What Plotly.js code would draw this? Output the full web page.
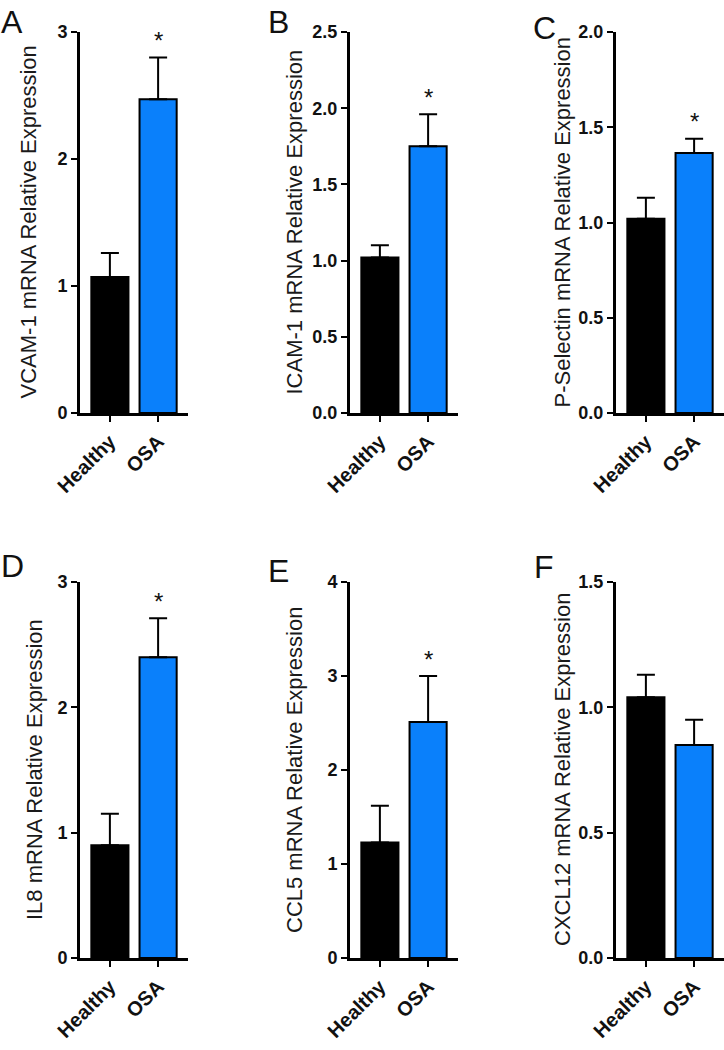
<!DOCTYPE html>
<html>
<head>
<meta charset="utf-8">
<script src="https://cdn.plot.ly/plotly-3.0.1.min.js"></script>
<style>
  html, body { margin: 0; padding: 0; background: #fff; }
  #chart { width: 724px; height: 1050px; }
</style>
</head>
<body>
<div id="chart"></div>
<script>
// ---- Data ----
const groups = ['Healthy', 'OSA'];
const panelLetters = ['A', 'B', 'C', 'D', 'E', 'F'];
const genes = ['VCAM-1', 'ICAM-1', 'P-Selectin', 'IL8', 'CCL5', 'CXCL12'];

const vcamMean = [1.07, 2.47];
const vcamSem = [0.19, 0.33];
const icamMean = [1.02, 1.75];
const icamSem = [0.08, 0.21];
const pselMean = [1.02, 1.365];
const pselSem = [0.11, 0.075];
const il8Mean = [0.90, 2.40];
const il8Sem = [0.25, 0.31];
const ccl5Mean = [1.23, 2.51];
const ccl5Sem = [0.39, 0.49];
const cxcl12Mean = [1.04, 0.85];
const cxcl12Sem = [0.09, 0.10];

const yMax = [3, 2.5, 2.0, 3, 4, 1.5];
const yStep = [1, 0.5, 0.5, 1, 1, 0.5];
const significant = [true, true, true, true, true, false];

const means = [vcamMean, icamMean, pselMean, il8Mean, ccl5Mean, cxcl12Mean];
const sems = [vcamSem, icamSem, pselSem, il8Sem, ccl5Sem, cxcl12Sem];

// ---- Layout geometry (pixels) ----
const W = 724, H = 1050;
const colX = [[80, 188], [350, 458], [616, 724]];
const rowY = [[32, 413], [582, 958]];
const titleX = [28, 294, 562, 34, 294, 562];
const letterPos = [[-1, 2], [266, 2], [531, 8], [-1, 546], [266, 551], [532, 547]];

const barColors = ['#000000', '#0a80fb'];
const FONT = 'Liberation Sans, Arial, Helvetica, sans-serif';

const data = [];
const layout = {
  width: W, height: H,
  margin: {l: 0, r: 0, t: 0, b: 0},
  paper_bgcolor: '#ffffff',
  plot_bgcolor: 'rgba(0,0,0,0)',
  showlegend: false,
  annotations: [],
  font: {family: FONT, color: '#111'}
};

for (let i = 0; i < 6; i++) {
  const c = i % 3, r = Math.floor(i / 3);
  const n = i === 0 ? '' : String(i + 1);
  const xa = 'x' + n, ya = 'y' + n;
  data.push({
    type: 'bar',
    x: [0, 1],
    y: means[i],
    xaxis: xa, yaxis: ya,
    width: 0.77,
    marker: {color: barColors, line: {color: '#000', width: 2}},
    error_y: {
      type: 'data', symmetric: false,
      array: sems[i], arrayminus: [0, 0],
      color: '#000', thickness: 2, width: 9
    },
    hoverinfo: 'skip'
  });
  const xd = [colX[c][0] / W, colX[c][1] / W];
  const yd = [(H - rowY[r][1]) / H, (H - rowY[r][0]) / H];
  layout['xaxis' + n] = {
    domain: xd, anchor: ya,
    range: [-0.62, 1.62],
    tickmode: 'array', tickvals: [0, 1], ticktext: groups,
    tickangle: -45,
    tickfont: {family: FONT, size: 20, weight: 'bold', color: '#111'},
    showline: true, linewidth: 3, linecolor: '#000',
    ticks: 'outside', ticklen: 6, tickwidth: 2, tickcolor: '#000',
    showgrid: false, zeroline: false, fixedrange: true
  };
  layout['yaxis' + n] = {
    domain: yd, anchor: xa,
    range: [0, yMax[i]],
    tick0: 0, dtick: yStep[i],
    tickformat: yStep[i] < 1 ? '.1f' : 'd',
    tickfont: {family: FONT, size: 18, weight: 'bold', color: '#111'},
    showline: true, linewidth: 3, linecolor: '#000',
    ticks: 'outside', ticklen: 6, tickwidth: 2, tickcolor: '#000',
    ticklabelstandoff: 0,
    showgrid: false, zeroline: false, fixedrange: true
  };
  // y-axis title
  layout.annotations.push({
    xref: 'paper', yref: 'paper',
    x: titleX[i] / W, y: (yd[0] + yd[1]) / 2,
    xanchor: 'center', yanchor: 'middle',
    textangle: -90, showarrow: false,
    text: genes[i] + ' mRNA Relative Expression',
    font: {family: FONT, size: 22, color: '#1a1a1a'}
  });
  // panel letter
  layout.annotations.push({
    xref: 'paper', yref: 'paper',
    x: letterPos[i][0] / W, y: 1 - letterPos[i][1] / H,
    xanchor: 'left', yanchor: 'top', showarrow: false,
    text: panelLetters[i],
    font: {family: FONT, size: 32, color: '#111'}
  });
  // significance star
  if (significant[i]) {
    layout.annotations.push({
      xref: xa, yref: ya,
      x: 1, y: means[i][1] + sems[i][1],
      xanchor: 'center', yanchor: 'middle',
      yshift: 17, showarrow: false,
      text: '*',
      font: {family: FONT, size: 24, color: '#111'}
    });
  }
}

Plotly.newPlot('chart', data, layout, {staticPlot: true, displayModeBar: false});
</script>
</body>
</html>
